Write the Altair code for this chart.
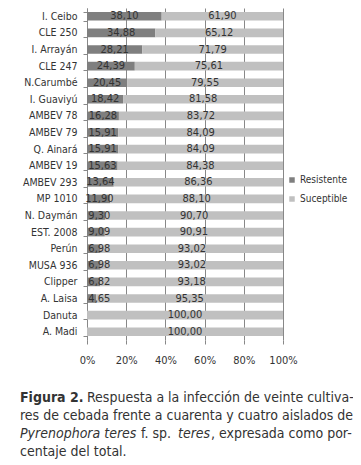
import altair as alt
import pandas as pd

cultivares = ["I. Ceibo", "CLE 250", "I. Arrayán", "CLE 247", "N.Carumbé", "I. Guaviyú",
              "AMBEV 78", "AMBEV 79", "Q. Ainará", "AMBEV 19", "AMBEV 293", "MP 1010",
              "N. Daymán", "EST. 2008", "Perún", "MUSA 936", "Clipper", "A. Laisa",
              "Danuta", "A. Madi"]
resistente = [38.10, 34.88, 28.21, 24.39, 20.45, 18.42, 16.28, 15.91, 15.91, 15.63,
              13.64, 11.90, 9.30, 9.09, 6.98, 6.98, 6.82, 4.65, 0.00, 0.00]
suceptible = [61.90, 65.12, 71.79, 75.61, 79.55, 81.58, 83.72, 84.09, 84.09, 84.38,
              86.36, 88.10, 90.70, 90.91, 93.02, 93.02, 93.18, 95.35, 100.00, 100.00]
series = ["Resistente", "Suceptible"]
colores = ["#7f7f7f", "#c0c0c0"]
ticks_x = [0, 20, 40, 60, 80, 100]

rows = []
for c, r, s in zip(cultivares, resistente, suceptible):
    rows.append({"cultivar": c, "serie": series[0], "orden": 0, "valor": r,
                 "ini": 0.0, "fin": r, "mid": max(r / 2, 6.3),
                 "lab": f"{r:.2f}".replace(".", ",") if r > 0 else ""})
    rows.append({"cultivar": c, "serie": series[1], "orden": 1, "valor": s,
                 "ini": r, "fin": r + s, "mid": r + s / 2,
                 "lab": f"{s:.2f}".replace(".", ",")})
df = pd.DataFrame(rows)

FONT = "DejaVu Sans Condensed, Liberation Sans"

x_scale = alt.Scale(domain=[0, 100], nice=False)
y_scale = alt.Scale(paddingInner=0.48, paddingOuter=0.24)
x_axis = alt.Axis(values=ticks_x, labelExpr="datum.value + '%'",
                  labelFont=FONT, labelFontSize=11, labelColor="#333333",
                  labelOverlap=False, labelFlush=False,
                  grid=True, gridColor="#888888", domain=False,
                  ticks=True, tickColor="#888888", tickSize=4, labelPadding=10)
y_axis = alt.Axis(labelFont=FONT, labelFontSize=10.5, labelColor="#333333",
                  domainColor="#888888", tickColor="#888888", tickSize=4,
                  tickBand="extent", labelPadding=6, grid=False)

bars = alt.Chart(df).mark_bar().encode(
    y=alt.Y("cultivar:N", sort=cultivares, title=None, scale=y_scale, axis=y_axis),
    x=alt.X("ini:Q", scale=x_scale, title=None, axis=x_axis),
    x2="fin:Q",
    color=alt.Color("serie:N", scale=alt.Scale(domain=series, range=colores),
                    legend=alt.Legend(title=None, orient="none", legendX=200, legendY=167,
                                      labelFont=FONT, labelFontSize=10, labelOffset=3,
                                      labelColor="#333333", symbolType="square",
                                      symbolSize=30, rowPadding=9, symbolStrokeWidth=0)),
    order="orden:Q",
)

labels = alt.Chart(df).mark_text(font=FONT, fontSize=11, color="#333333",
                                 baseline="middle").encode(
    y=alt.Y("cultivar:N", sort=cultivares, title=None, scale=y_scale, axis=y_axis),
    x=alt.X("mid:Q", scale=x_scale, title=None, axis=x_axis),
    text="lab:N",
)

cap_font = FONT
cap_color = "#333333"
cap_size = 14
ox = -67

def seg(text, x, y, weight="normal", style="normal"):
    return alt.Chart(pd.DataFrame({"t": [text]})).mark_text(
        font=cap_font, fontSize=cap_size, color=cap_color, align="left",
        baseline="alphabetic", fontWeight=weight, fontStyle=style
    ).encode(text="t:N", x=alt.value(x), y=alt.value(y))

cap = [
    seg("Figura 2.", ox, 394, weight="bold"),
    seg("Respuesta a la infección de veinte cultiva-", ox + 67, 394),
    seg("res de cebada frente a cuarenta y cuatro aislados de", ox, 412),
    seg("Pyrenophora teres", ox, 430, style="italic"),
    seg("f. sp.", ox + 121, 430),
    seg("teres", ox + 158, 430, style="italic"),
    seg(", expresada como por-", ox + 191, 430),
    seg("centaje del total.", ox, 448),
]

chart = alt.layer(bars, labels, *cap).properties(
    width=196, height=332,
    autosize=alt.AutoSizeParams(type="none"),
    padding={"left": 79, "top": 0, "right": 70, "bottom": 124},
).configure_view(stroke=None)

chart.save("out.html", embed_options={"renderer": "svg", "actions": False})
